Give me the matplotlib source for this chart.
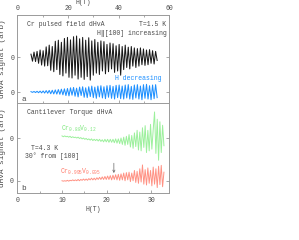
"""Cr dHvA oscillations: pulsed field (a) and cantilever torque (b)."""
import matplotlib
matplotlib.use("Agg")
import matplotlib.pyplot as plt

# --- data ------------------------------------------------------------------
# (a) pulsed field, H in tesla, signal in arb units (trace offsets 0 / -10)
H_pulsed = [5.4, 6.0, 6.6, 7.2, 7.8, 8.4, 9.0, 9.6, 10.2, 10.8,
            11.4, 12.0, 12.6, 13.2, 13.8, 14.4, 15.0, 15.6, 16.2, 16.8,
            17.4, 18.0, 18.6, 19.2, 19.8, 20.4, 21.0, 21.6, 22.2, 22.8,
            23.4, 24.0, 24.6, 25.2, 25.8, 26.4, 27.0, 27.6, 28.2, 28.8,
            29.4, 30.0, 30.6, 31.2, 31.8, 32.4, 33.0, 33.6, 34.2, 34.8,
            35.4, 36.0, 36.6, 37.2, 37.8, 38.4, 39.0, 39.6, 40.2, 40.8,
            41.4, 42.0, 42.6, 43.2, 43.8, 44.4, 45.0, 45.6, 46.2, 46.8,
            47.4, 48.0, 48.6, 49.2, 49.8, 50.4, 51.0, 51.6, 52.2, 52.8,
            53.4, 54.0, 54.6, 55.2]
up_sweep = [0.8, -1.2, 1.4, -1.3, 1.6, -1.8, 2.0, -2.3, 1.8, -2.6,
            2.9, -2.5, 3.4, -3.8, 3.0, -4.2, 4.5, -3.6, 4.8, -5.0,
            4.2, -5.4, 5.3, -4.6, 5.6, -5.8, 4.9, -6.0, 5.8, -5.2,
            6.0, -6.3, 5.2, -5.8, 5.6, -6.4, 4.8, -5.6, 5.5, -6.6,
            4.6, -5.2, 5.0, -4.6, 4.2, -5.0, 4.6, -4.0, 4.4, -4.8,
            3.6, -4.2, 4.0, -3.4, 3.8, -4.4, 3.2, -4.0, 3.6, -5.2,
            3.0, -3.6, 3.4, -3.0, 2.8, -3.4, 3.0, -2.6, 2.6, -3.0,
            2.4, -2.6, 2.6, -2.2, 2.3, -2.4, 2.0, -2.2, 2.1, -1.8,
            1.8, -2.0, 1.6, -1.0]
down_sweep = [0.1, -0.1, 0.15, -0.15, 0.2, -0.2, 0.25, -0.25, 0.3, -0.3,
              0.4, -0.35, 0.45, -0.5, 0.5, -0.55, 0.6, -0.6, 0.7, -0.65,
              0.8, -0.8, 0.9, -1.0, 1.0, -1.1, 1.2, -0.9, 1.3, -1.2,
              1.1, -1.4, 1.4, -1.0, 1.5, -1.5, 1.2, -1.6, 1.5, -1.3,
              1.7, -1.6, 1.4, -1.8, 1.7, -1.4, 1.8, -1.7, 1.5, -1.9,
              1.8, -1.5, 1.9, -1.8, 1.6, -2.0, 1.9, -1.6, 2.0, -1.9,
              1.7, -2.0, 2.0, -1.7, 2.1, -2.0, 1.6, -2.1, 2.0, -1.7,
              2.1, -2.0, 1.7, -2.2, 2.1, -1.8, 2.2, -2.0, 1.8, -2.2,
              2.0, -1.9, 2.1, -1.6]

# (b) cantilever torque
H_torque = [10.0, 10.3, 10.6, 10.9, 11.2, 11.5, 11.8, 12.1, 12.4, 12.7,
            13.0, 13.3, 13.6, 13.9, 14.2, 14.5, 14.8, 15.1, 15.4, 15.7,
            16.0, 16.3, 16.6, 16.9, 17.2, 17.5, 17.8, 18.1, 18.4, 18.7,
            19.0, 19.3, 19.6, 19.9, 20.2, 20.5, 20.8, 21.1, 21.4, 21.7,
            22.0, 22.3, 22.6, 22.9, 23.2, 23.5, 23.8, 24.1, 24.4, 24.7,
            25.0, 25.3, 25.6, 25.9, 26.2, 26.5, 26.8, 27.1, 27.4, 27.7,
            28.0, 28.3, 28.6, 28.9, 29.2, 29.5, 29.8, 30.1, 30.4, 30.7,
            31.0, 31.3, 31.6, 31.9, 32.2, 32.5, 32.8]
cr088 = [0.5, 0.3, 0.5, 0.3, 0.4, 0.2, 0.4, 0.1, 0.3, 0.1,
         0.2, 0.0, 0.2, -0.1, 0.1, -0.2, 0.0, -0.3, -0.1, -0.4,
         -0.2, -0.5, -0.2, -0.6, -0.3, -0.6, -0.3, -0.7, -0.3, -0.8,
         -0.4, -0.9, -0.3, -0.9, -0.3, -1.0, -0.3, -1.0, -0.3, -1.1,
         -0.2, -1.2, -0.2, -1.3, 0.0, -1.5, 0.2, -1.7, 0.4, -1.5,
         0.8, -2.1, 0.6, -2.4, 1.2, -2.0, 1.8, -2.8, 1.4, -3.0,
         2.4, -2.2, 2.9, -3.4, 1.8, -3.0, 3.2, -2.6, 2.0, 6.1,
         -3.6, 4.4, -5.2, 3.8, -3.4, 3.0, -1.8]
cr0995 = [0.0, -0.1, 0.0, -0.1, 0.1, -0.1, 0.1, 0.0, 0.2, 0.0,
          0.2, 0.0, 0.3, 0.0, 0.3, 0.1, 0.4, 0.1, 0.4, 0.1,
          0.5, 0.2, 0.6, 0.2, 0.6, 0.2, 0.7, 0.3, 0.8, 0.3,
          0.9, 0.3, 1.0, 0.3, 1.1, 0.3, 1.2, 0.2, 1.3, 0.3,
          1.4, 0.2, 1.5, 0.1, 1.6, 0.2, 1.8, 0.0, 1.9, 0.2,
          2.0, -0.2, 1.8, 0.0, 2.4, -0.4, 2.2, -0.6, 2.8, -0.3,
          3.7, -0.8, 2.6, -1.0, 3.0, -0.6, 2.4, -1.2, 3.2, -0.8,
          2.8, -1.6, 3.4, -0.9, 3.6, -1.4, 2.0]
H_arrow = 21.6

OFFSET = -10
GREY = "#9a9a9a"
TXT = "#4a4a4a"

plt.rcParams["font.family"] = ["Liberation Mono", "DejaVu Sans Mono"]
plt.rcParams["mathtext.default"] = "regular"
plt.rcParams["font.size"] = 4.7

W, Hpx = 299, 240
fig = plt.figure(figsize=(W / 100, Hpx / 100), dpi=100)


def box(x0, y0, x1, y1):
    return [x0 / W, 1 - y1 / Hpx, (x1 - x0) / W, (y1 - y0) / Hpx]


def fx(x, y):
    return x / W, 1 - y / Hpx


axa = fig.add_axes(box(17.3, 15, 169.3, 103))
axb = fig.add_axes(box(17.3, 103, 169.3, 192.7))

for ax in (axa, axb):
    for s in ax.spines.values():
        s.set_color(GREY); s.set_linewidth(0.7)
    ax.tick_params(which="both", direction="in", colors=GREY, labelcolor=TXT,
                   width=0.6, left=True, right=True, top=True, bottom=True, pad=2)
    ax.tick_params(which="major", length=2.5)
    ax.tick_params(which="minor", length=1.5)
    ax.set_yticks([OFFSET, 0]); ax.set_yticklabels(["0", "0"])
    ax.set_ylabel("dHvA signal (arb)", color=TXT, fontsize=5.6)
    ax.yaxis.set_label_coords(-0.072, 0.5)

# (a)
axa.plot(H_pulsed, up_sweep, color="black", lw=0.75, alpha=0.9)
axa.plot(H_pulsed, [v + OFFSET for v in down_sweep], color="#1e90ff", lw=0.75)
axa.set_xlim(0, 60); axa.set_ylim(-13.14, 12.0)
axa.set_xticks([0, 20, 40, 60]); axa.set_xticks([10, 30, 50], minor=True)
axa.xaxis.tick_top(); axa.xaxis.set_label_position("top")
axa.tick_params(which="both", bottom=True, top=True, labelbottom=False, labeltop=True)
axa.set_xlabel("H(T)", color=TXT, labelpad=1)
axa.xaxis.set_label_coords(0.436, 1.12)

fig.text(*fx(27, 24), "Cr pulsed field dHvA", color=TXT, va="center")
fig.text(*fx(166.5, 24), "T=1.5 K", color=TXT, va="center", ha="right")
fig.text(*fx(166.5, 33.5), "H\u2016[100] increasing", color=TXT, va="center", ha="right")
fig.text(*fx(161.5, 78.5), "H decreasing", color="#1e90ff", va="center", ha="right")
fig.text(*fx(21, 99.5), "a", color=TXT, va="center", fontsize=5.5)

# (b)
axb.plot(H_torque, cr088, color="#9cf09c", lw=0.7)
axb.plot(H_torque, [v + OFFSET for v in cr0995], color="#ff9284", lw=0.7)
axb.annotate("", xy=(H_arrow, -8.2), xytext=(H_arrow, -5.9),
             arrowprops=dict(arrowstyle="->", color="#666666", lw=0.5,
                             mutation_scale=4, shrinkA=0, shrinkB=0))
axb.set_xlim(0, 34); axb.set_ylim(-12.8, 8.2)
axb.set_xticks([0, 10, 20, 30]); axb.set_xticks([5, 15, 25], minor=True)
axb.tick_params(which="both", top=False, pad=3)
axb.set_xlabel("H(T)", color=TXT, labelpad=1.5)

fig.text(*fx(27, 112.5), "Cantilever Torque dHvA", color=TXT, va="center")
fig.text(*fx(31, 148), "T=4.3 K", color=TXT, va="center")
fig.text(*fx(25, 156), "30\u00b0 from [100]", color=TXT, va="center")
fig.text(*fx(61, 129), r"Cr$_{0.88}$V$_{0.12}$", color="#7ee87e", va="center")
fig.text(*fx(60, 172), r"Cr$_{0.995}$V$_{0.005}$", color="#ff7a6a", va="center")
fig.text(*fx(21, 189), "b", color=TXT, va="center", fontsize=5.5)

fig.savefig("out.png", dpi=100)
